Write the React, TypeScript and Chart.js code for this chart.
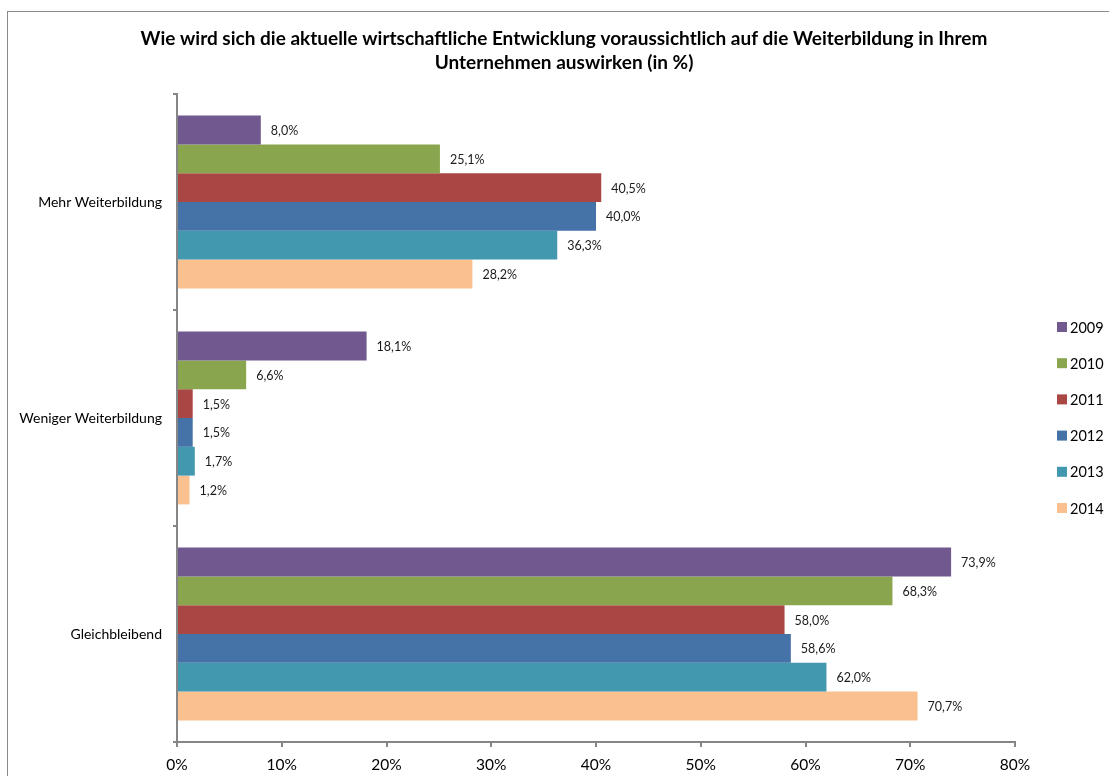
import React, { useEffect, useRef } from "react";
import { Chart, registerables } from "chart.js";

Chart.register(...registerables);

const TITLE_LINES = [
  "Wie wird sich die aktuelle wirtschaftliche Entwicklung voraussichtlich auf die Weiterbildung in Ihrem",
  "Unternehmen auswirken (in %)",
];
const CATEGORIES = ["Mehr Weiterbildung", "Weniger Weiterbildung", "Gleichbleibend"];
const YEARS = ["2009", "2010", "2011", "2012", "2013", "2014"];
const COLORS = ["#71588F", "#89A54E", "#AA4643", "#4572A7", "#4198AF", "#FAC090"];
const V2009 = [8.0, 18.1, 73.9];
const V2010 = [25.1, 6.6, 68.3];
const V2011 = [40.5, 1.5, 58.0];
const V2012 = [40.0, 1.5, 58.6];
const V2013 = [36.3, 1.7, 62.0];
const V2014 = [28.2, 1.2, 70.7];
const SERIES = [V2009, V2010, V2011, V2012, V2013, V2014];
const X_TICKS = [0, 10, 20, 30, 40, 50, 60, 70, 80];

const FONT = "Lato, 'Open Sans', sans-serif";
const AXIS = "#868686";

const fmt = (v: number) => v.toFixed(1).replace(".", ",") + "%";

const decorPlugin = {
  id: "decor",
  afterDraw(chart: any) {
    const ctx = chart.ctx;
    ctx.save();
    // title
    ctx.fillStyle = "#000";
    ctx.font = `bold 19px ${FONT}`;
    ctx.textAlign = "center";
    ctx.textBaseline = "middle";
    TITLE_LINES.forEach((line, i) => ctx.fillText(line, 564, 39 + i * 24));
    // data labels
    ctx.font = `12.5px ${FONT}`;
    ctx.textAlign = "left";
    ctx.fillStyle = "#1a1a1a";
    chart.data.datasets.forEach((ds: any, di: number) => {
      const meta = chart.getDatasetMeta(di);
      meta.data.forEach((bar: any, i: number) => {
        ctx.fillText(fmt(ds.data[i]), bar.x + 10, bar.y + 1);
      });
    });
    // legend
    ctx.font = `14.5px ${FONT}`;
    chart.data.datasets.forEach((ds: any, di: number) => {
      const y = 327 + di * 36.2;
      ctx.fillStyle = ds.backgroundColor;
      ctx.fillRect(1057, y - 5, 10, 10);
      ctx.fillStyle = "#000";
      ctx.fillText(ds.label, 1070, y + 1);
    });
    ctx.restore();
  },
};

export default function App() {
  const ref = useRef<HTMLCanvasElement>(null);
  useEffect(() => {
    if (!ref.current) return;
    const chart = new Chart(ref.current, {
      type: "bar",
      data: {
        labels: CATEGORIES,
        datasets: YEARS.map((y, i) => ({
          label: y,
          data: SERIES[i],
          backgroundColor: COLORS[i],
          borderWidth: 0,
          categoryPercentage: 0.8,
          barPercentage: 1.0,
        })),
      },
      options: {
        indexAxis: "y",
        animation: false,
        responsive: false,
        devicePixelRatio: 1,
        layout: { padding: { top: 94, right: 94, left: 0, bottom: 0 } },
        plugins: {
          legend: { display: false },
          title: { display: false },
          tooltip: { enabled: false },
        },
        scales: {
          x: {
            min: 0,
            max: 80,
            afterBuildTicks: (axis: any) => {
              axis.ticks = X_TICKS.map((v) => ({ value: v }));
            },
            afterFit: (axis: any) => {
              axis.height = 34;
            },
            ticks: {
              callback: (v: any) => v + "%",
              color: "#000",
              font: { family: FONT, size: 15.5 },
              padding: 9,
              maxRotation: 0,
            },
            grid: {
              drawOnChartArea: false,
              drawTicks: true,
              tickLength: 5,
              color: AXIS,
              lineWidth: 2,
            },
            border: { color: AXIS, width: 2 },
          },
          y: {
            afterFit: (axis: any) => {
              axis.width = 177;
            },
            ticks: {
              color: "#000",
              font: { family: FONT, size: 14 },
              padding: 11,
            },
            grid: {
              offset: true,
              drawOnChartArea: false,
              drawTicks: true,
              tickLength: 4,
              color: AXIS,
              lineWidth: 2,
            },
            border: { color: AXIS, width: 2 },
          },
        },
      },
      plugins: [decorPlugin],
    } as any);
    return () => chart.destroy();
  }, []);

  return (
    <div
      style={{
        position: "fixed",
        left: 0,
        top: 0,
        width: 1109,
        height: 776,
        overflow: "hidden",
        background: "#fff",
      }}
    >
      <div
        style={{
          position: "absolute",
          left: 7,
          top: 11,
          width: 1200,
          height: 900,
          border: "1px solid #8a8a8a",
        }}
      />
      <canvas
        ref={ref}
        width={1109}
        height={776}
        style={{ position: "absolute", left: 0, top: 0 }}
      />
    </div>
  );
}
